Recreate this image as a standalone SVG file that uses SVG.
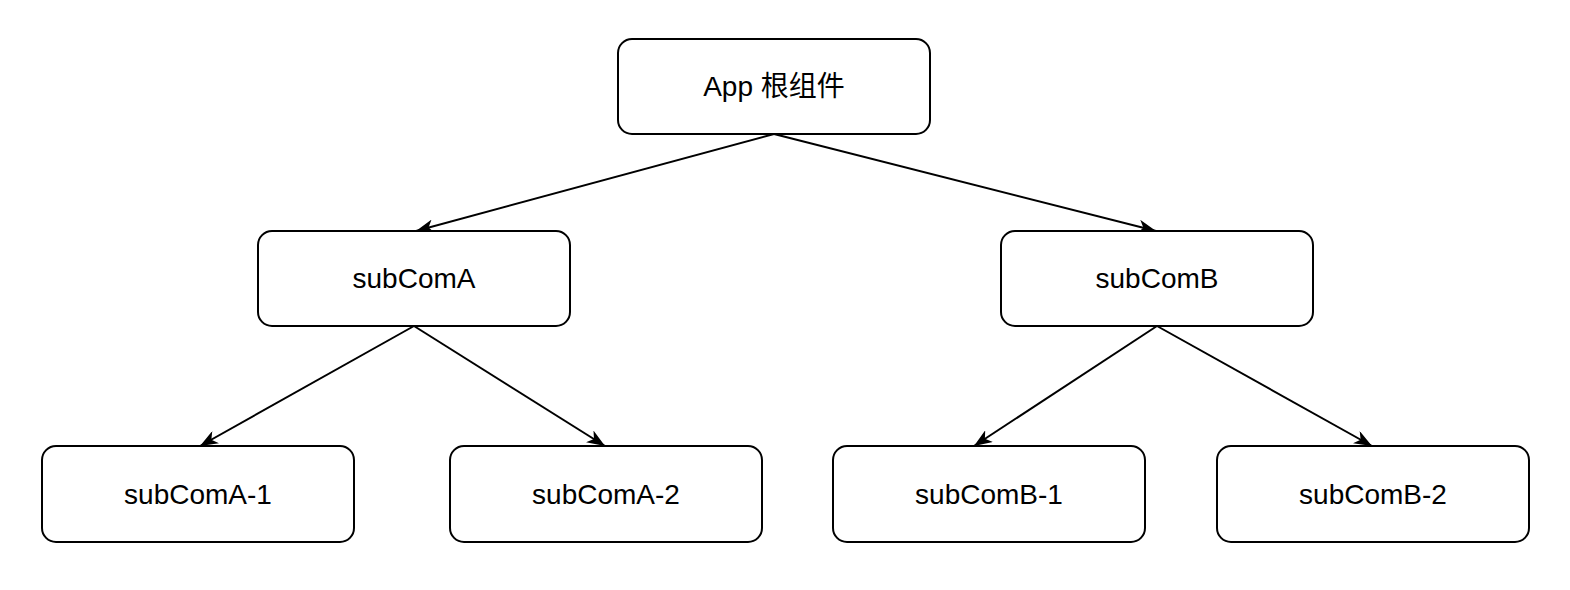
<svg xmlns="http://www.w3.org/2000/svg" width="1570" height="590" viewBox="0 0 1570 590">
<style>
.node rect{fill:#fff;stroke:#000;stroke-width:2}
.node text{font-family:"Liberation Sans","Noto Sans CJK SC",sans-serif;font-size:28px;fill:#000;text-anchor:middle}
.edges line{stroke:#000;stroke-width:2;marker-end:url(#arr)}
</style>
<defs>
<marker id="arr" markerUnits="userSpaceOnUse" markerWidth="18" markerHeight="14" viewBox="0 0 18 14" refX="18" refY="7" orient="auto">
<path d="M0,0 L18,7 L0,14 L5,7 Z" fill="#000"/>
</marker>
</defs>
<rect width="1570" height="590" fill="#fff"/>
<g class="edges">
<line x1="774" y1="134" x2="416" y2="231"/>
<line x1="774" y1="134" x2="1156" y2="231"/>
<line x1="414" y1="326" x2="200" y2="446"/>
<line x1="414" y1="326" x2="605" y2="446"/>
<line x1="1157" y1="326" x2="974" y2="446"/>
<line x1="1157" y1="326" x2="1372" y2="446"/>
</g>
<g id="app" class="node"><rect x="618" y="39" width="312" height="95" rx="14"/><text x="774" y="96">App 根组件</text></g>
<g id="subComA" class="node"><rect x="258" y="231" width="312" height="95" rx="14"/><text x="414" y="288">subComA</text></g>
<g id="subComB" class="node"><rect x="1001" y="231" width="312" height="95" rx="14"/><text x="1157" y="288">subComB</text></g>
<g id="subComA-1" class="node"><rect x="42" y="446" width="312" height="96" rx="14"/><text x="198" y="504">subComA-1</text></g>
<g id="subComA-2" class="node"><rect x="450" y="446" width="312" height="96" rx="14"/><text x="606" y="504">subComA-2</text></g>
<g id="subComB-1" class="node"><rect x="833" y="446" width="312" height="96" rx="14"/><text x="989" y="504">subComB-1</text></g>
<g id="subComB-2" class="node"><rect x="1217" y="446" width="312" height="96" rx="14"/><text x="1373" y="504">subComB-2</text></g>
</svg>
